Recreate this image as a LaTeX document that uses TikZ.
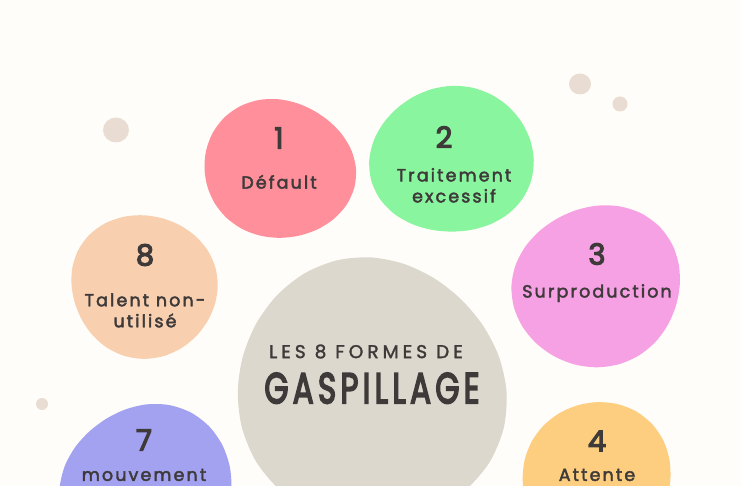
\documentclass[tikz,border=0pt]{standalone}
\usepackage{fontspec}
\setmainfont{Poppins}
\newfontfamily\labelfont{Poppins}[LetterSpace=12, FakeBold=2.4]
\newfontfamily\headfont{Poppins}[LetterSpace=22, FakeBold=1.8]
\newfontfamily\numfont{Poppins}[FakeBold=4]
\newfontfamily\bigfont{Poppins}[LetterSpace=14, FakeBold=4.5]
\usetikzlibrary{positioning}

\definecolor{paper}{HTML}{FFFDF9}
\definecolor{ink}{HTML}{3E3A3A}
\definecolor{dotbeige}{HTML}{E9DCD2}
\definecolor{blobred}{HTML}{FF8F9B}
\definecolor{blobgreen}{HTML}{8AF59F}
\definecolor{blobpink}{HTML}{F5A1E3}
\definecolor{blobpeach}{HTML}{F8CFAF}
\definecolor{blobgrey}{HTML}{DCD8CE}
\definecolor{blobblue}{HTML}{A2A2F0}
\definecolor{bloborange}{HTML}{FDCE7F}

% organic blob: colour, cx, cy, rx, ry, phase
\newcommand{\wasteblob}[6]{%
  \fill[#1] plot[smooth cycle, domain=0:345, samples=24, variable=\t]
    ({#2+#4*cos(\t)*(1+0.03*sin(2*\t+#6)+0.018*cos(3*\t-#6))},
     {#3+#5*sin(\t)*(1+0.03*sin(2*\t+#6)+0.018*cos(3*\t-#6))});}

\begin{document}
\begin{tikzpicture}[
    x=1pt, y=-1pt,
    num/.style={text=ink, font=\numfont\fontsize{29}{29}\selectfont, inner sep=0pt},
    wastelabel/.style={text=ink, font=\labelfont\fontsize{17.5}{21}\selectfont, align=center, inner sep=0pt},
    headline/.style={text=ink, font=\headfont\fontsize{18.5}{20}\selectfont, inner sep=0pt},
    bigword/.style={text=ink, font=\bigfont\fontsize{43}{43}\selectfont, inner sep=0pt}
]
\path[use as bounding box, fill=paper] (0,0) rectangle (741,486);
\clip (0,0) rectangle (741,486);

% little dots
\fill[dotbeige] (116,130) ellipse [x radius=13, y radius=12.5];
\fill[dotbeige] (580,84) ellipse [x radius=11, y radius=10.5];
\fill[dotbeige] (620,104) ellipse [x radius=7.5, y radius=7.5];
\fill[dotbeige] (42,404) ellipse [x radius=6, y radius=6];

% blobs
\wasteblob{blobred}{279}{169}{75}{70}{20}
\wasteblob{blobgreen}{452}{160}{80}{75}{110}
\wasteblob{blobpink}{597}{286}{85}{80}{200}
\wasteblob{blobpeach}{144}{286}{75}{70}{300}
\wasteblob{blobgrey}{371}{392}{131}{136}{60}
\wasteblob{blobblue}{147}{488}{85}{84}{160}
\wasteblob{bloborange}{597}{480}{76}{77}{250}

% numbers and labels
\node[num] (n1) at (279,138) {1};
\node[wastelabel, below=26pt of n1] (l1) {Défault};
\node[num] (n2) at (444,137) {2};
\node[wastelabel, below=20pt of n2, xshift=10pt] (l2) {Traitement\\excessif};
\node[num] (n3) at (597,254) {3};
\node[wastelabel, below=19pt of n3] (l3) {Surproduction};
\node[num] (n4) at (597,441) {4};
\node[wastelabel, below=17pt of n4] (l4) {Attente};
\node[num] (n7) at (144,440) {7};
\node[wastelabel, below=18pt of n7] (l7) {mouvement};
\node[num] (n8) at (145,255) {8};
\node[wastelabel, below=27pt of n8] (l8) {Talent non-\\utilisé};

% centre
\node[headline] (title) at (366,351.5) {LES 8 FORMES DE};
\node[bigword, below=14pt of title, xshift=6pt] (gasp) {\scalebox{0.72}[1]{GASPILLAGE}};
\end{tikzpicture}
\end{document}
